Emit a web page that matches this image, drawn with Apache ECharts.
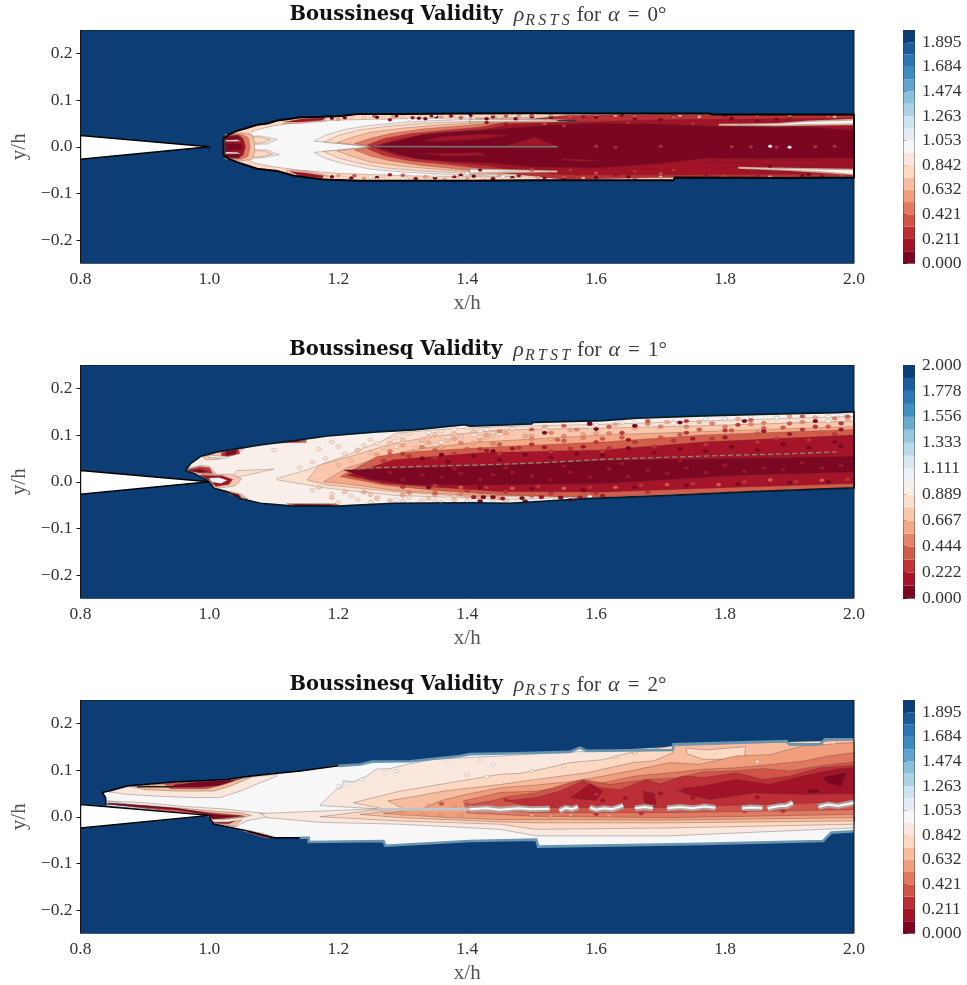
<!DOCTYPE html>
<html><head><meta charset="utf-8">
<style>html,body{margin:0;padding:0;background:#fff}#c{width:967px;height:985px}</style>
<script src="https://cdn.jsdelivr.net/npm/echarts@6/dist/echarts.min.js"></script></head>
<body><div id="c"></div>
<script>
// ---- colour bands ----
const bands19 = ['#7b0622','#a21328','#bd2f36','#d05548','#e17960','#f19e7c','#f8bc9f','#fdd8c3','#fae8de','#f7f7f7','#e3edf3','#cee3ef','#add2e6','#8ac0db','#60a5cd','#3e8cbf','#2c74b3','#1b5b9c','#0c3e75'];
const bands18 = ['#7c0722','#a61429','#c03438','#d45c4b','#e58267','#f5a886','#fac6ac','#fce0cf','#f9efea','#ecf2f5','#d7e8f1','#b8d9e9','#96c7df','#6aacd0','#4190c2','#2e77b5','#1c5d9f','#0d3f76'];
// ---- axes ----
const xTicks = [0.8,1.0,1.2,1.4,1.6,1.8,2.0];
const yTicks = [-0.2,-0.1,0,0.1,0.2];
const levels19 = [0,0.10526,0.21053,0.31579,0.42105,0.52632,0.63158,0.73684,0.84211,0.94737,1.05263,1.15789,1.26316,1.36842,1.47368,1.57895,1.68421,1.78947,1.89474,2];
const levels18 = [0,0.11111,0.22222,0.33333,0.44444,0.55556,0.66667,0.77778,0.88889,1,1.11111,1.22222,1.33333,1.44444,1.55556,1.66667,1.77778,1.88889,2];
const cbTicks19 = [0,0.21053,0.42105,0.63158,0.84211,1.05263,1.26316,1.47368,1.68421,1.89474];
const cbTicks18 = [0,0.22222,0.44444,0.66667,0.88889,1.11111,1.33333,1.55556,1.77778,2];
const titles = [['RSTS','0'],['RTST','1'],['RSTS','2']];
// ---- wedges ----
const wedge0 = [[0.8,0.024],[1.0,0],[0.8,-0.0265]];
const wedge1 = [[0.8,0.024],[1.0,0],[0.8,-0.0265]];
const wedge2 = [[0.8,0.026],[1.0,0.003],[0.8,-0.024]];
// ---- alpha 0 ----
const edge0 = [[1.022,0.018],[1.03,0.026],[1.043,0.034],[1.058,0.04],[1.074,0.047],[1.09,0.05],[1.105,0.056],[1.12,0.059],[1.141,0.063],[1.16,0.063],[1.182,0.065],[1.205,0.066],[1.229,0.07],[1.3,0.07],[1.4,0.071],[1.5,0.072],[1.6,0.071],[1.7,0.071],[1.777,0.071],[1.78,0.069],[1.9,0.069],[2,0.069],[2,-0.066],[1.9,-0.067],[1.722,-0.066],[1.72,-0.072],[1.6,-0.072],[1.5,-0.072],[1.4,-0.073],[1.234,-0.073],[1.177,-0.07],[1.131,-0.062],[1.105,-0.052],[1.074,-0.047],[1.043,-0.033],[1.03,-0.026],[1.022,-0.018]];
const fill0 = [
 [7,edge0],
 [9,[[1.05,0.02],[1.07,0.035],[1.1,0.045],[1.14,0.052],[1.2,0.057],[1.3,0.06],[1.4,0.062],[1.5,0.062],[1.5,-0.062],[1.4,-0.064],[1.3,-0.062],[1.2,-0.057],[1.14,-0.05],[1.1,-0.043],[1.07,-0.035],[1.05,-0.02]]],
 [6,[[1.115,0.058],[1.14,0.061],[1.18,0.063],[1.18,0.055],[1.14,0.05],[1.115,0.05]]],
 [1,[[1.118,0.053],[1.14,0.059],[1.18,0.062],[1.175,0.057],[1.14,0.053]]],
 [6,[[1.12,-0.05],[1.15,-0.052],[1.185,-0.062],[1.18,-0.069],[1.14,-0.064],[1.12,-0.058]]],
 [1,[[1.125,-0.053],[1.15,-0.056],[1.177,-0.062],[1.175,-0.067],[1.14,-0.062]]],
 [8,[[1.05,0.023],[1.08,0.023],[1.105,0.016],[1.09,0.006],[1.06,0.005],[1.05,0.012]]],
 [7,[[1.05,0.021],[1.078,0.021],[1.095,0.015],[1.082,0.008],[1.06,0.007]]],
 [8,[[1.05,-0.005],[1.09,-0.007],[1.108,-0.017],[1.08,-0.024],[1.05,-0.024]]],
 [7,[[1.05,-0.008],[1.085,-0.009],[1.098,-0.016],[1.078,-0.022],[1.05,-0.022]]],
 [6,[[1.024,0.027],[1.05,0.03],[1.066,0.026],[1.07,0.01],[1.07,-0.012],[1.066,-0.027],[1.05,-0.03],[1.024,-0.027]]],
 [4,[[1.024,0.025],[1.05,0.027],[1.06,0.02],[1.063,0],[1.06,-0.02],[1.05,-0.027],[1.024,-0.025]]],
 [1,[[1.024,0.023],[1.045,0.025],[1.052,0.018],[1.056,0],[1.052,-0.018],[1.045,-0.025],[1.024,-0.023]]],
 [0,[[1.026,0.007],[1.05,0.006],[1.05,-0.006],[1.026,-0.008]]],
 [0,[[1.027,0.022],[1.045,0.022],[1.047,0.017],[1.027,0.017]]],
 [0,[[1.027,-0.017],[1.045,-0.017],[1.047,-0.022],[1.027,-0.022]]],
 [9,[[1.025,0.014],[1.043,0.015],[1.049,0.012],[1.025,0.011]]],
 [9,[[1.025,-0.011],[1.043,-0.012],[1.049,-0.015],[1.025,-0.015]]],
 [8,[[1.162,0.012],[1.18,0.025],[1.21,0.037],[1.25,0.046],[1.3,0.052],[1.35,0.056],[1.42,0.06],[1.5,0.063],[1.6,0.066],[2,0.066],[2,-0.063],[1.6,-0.066],[1.5,-0.065],[1.42,-0.062],[1.35,-0.058],[1.3,-0.054],[1.25,-0.048],[1.21,-0.037],[1.18,-0.025],[1.162,-0.012],[1.255,0]]],
 [7,[[1.177,0.01],[1.2,0.024],[1.23,0.035],[1.27,0.043],[1.33,0.05],[1.42,0.055],[1.5,0.06],[1.6,0.062],[2,0.064],[2,-0.061],[1.6,-0.063],[1.5,-0.062],[1.42,-0.058],[1.33,-0.052],[1.27,-0.045],[1.23,-0.035],[1.2,-0.024],[1.177,-0.01],[1.255,0]]],
 [6,[[1.198,0.009],[1.22,0.02],[1.25,0.031],[1.3,0.04],[1.36,0.047],[1.42,0.052],[1.5,0.057],[1.6,0.061],[2,0.063],[2,-0.06],[1.6,-0.062],[1.5,-0.06],[1.42,-0.055],[1.36,-0.049],[1.3,-0.042],[1.25,-0.033],[1.22,-0.02],[1.198,-0.009],[1.255,0]]],
 [4,[[1.225,0.007],[1.25,0.018],[1.28,0.028],[1.33,0.038],[1.4,0.046],[1.45,0.052],[1.6,0.06],[2,0.066],[2,-0.062],[1.6,-0.064],[1.45,-0.056],[1.4,-0.05],[1.33,-0.04],[1.28,-0.03],[1.25,-0.02],[1.225,-0.007],[1.255,0]]],
 [2,[[1.245,0.004],[1.27,0.017],[1.31,0.028],[1.37,0.036],[1.42,0.042],[1.46,0.053],[1.55,0.067],[1.7,0.069],[2,0.068],[2,-0.064],[1.7,-0.066],[1.55,-0.07],[1.46,-0.056],[1.42,-0.046],[1.37,-0.038],[1.31,-0.03],[1.27,-0.019],[1.245,-0.004],[1.255,0]]],
 [1,[[1.255,0.001],[1.29,0.015],[1.33,0.025],[1.38,0.032],[1.43,0.038],[1.47,0.048],[1.55,0.052],[1.7,0.058],[2,0.061],[2,-0.058],[1.7,-0.06],[1.55,-0.06],[1.47,-0.05],[1.43,-0.04],[1.38,-0.034],[1.33,-0.027],[1.29,-0.018],[1.255,-0.001]]],
 [0,[[1.26,0.001],[1.29,0.012],[1.33,0.026],[1.36,0.03],[1.42,0.035],[1.47,0.04],[1.53,0.046],[1.6,0.05],[1.7,0.048],[1.8,0.043],[2,0.04],[2,-0.024],[1.85,-0.025],[1.77,-0.024],[1.7,-0.036],[1.6,-0.045],[1.5,-0.043],[1.43,-0.034],[1.36,-0.03],[1.32,-0.025],[1.29,-0.015],[1.26,-0.001]]],
 [1,[[1.33,0.012],[1.36,0.022],[1.42,0.027],[1.47,0.025],[1.42,0.016],[1.37,0.012]]],
 [1,[[1.32,-0.013],[1.37,-0.014],[1.42,-0.012],[1.43,-0.019],[1.37,-0.021]]],
 [1,[[1.456,0.001],[1.49,0.014],[1.505,0.021],[1.52,0.012],[1.54,0.001]]],
 [1,[[1.544,-0.025],[1.58,-0.027],[1.61,-0.03],[1.58,-0.032],[1.55,-0.029]]],
 [1,[[1.766,-0.034],[1.8,-0.025],[1.9,-0.029],[2,-0.033],[2,-0.042],[1.85,-0.037]]],
 [1,[[1.88,0.047],[2,0.035],[2,0.045],[1.9,0.05]]],
 [6,[[1.404,0.061],[1.46,0.06],[1.54,0.059],[1.57,0.056],[1.54,0.053],[1.46,0.052],[1.404,0.051]]],
 [9,[[1.404,0.058],[1.46,0.0575],[1.53,0.058],[1.545,0.056],[1.46,0.0545],[1.404,0.054]]],
 [6,[[1.79,0.049],[1.88,0.051],[1.93,0.056],[2,0.06],[2,0.046],[1.93,0.045],[1.88,0.044],[1.79,0.045]]],
 [9,[[1.82,0.0475],[1.88,0.049],[1.93,0.054],[2,0.057],[2,0.049],[1.93,0.048],[1.88,0.046],[1.82,0.046]]],
 [6,[[1.404,-0.046],[1.46,-0.048],[1.54,-0.051],[1.54,-0.055],[1.46,-0.056],[1.404,-0.06]]],
 [9,[[1.404,-0.049],[1.46,-0.05],[1.53,-0.052],[1.53,-0.054],[1.46,-0.0535],[1.404,-0.056]]],
 [6,[[1.82,-0.043],[1.9,-0.045],[2,-0.047],[2,-0.061],[1.95,-0.056],[1.9,-0.052],[1.82,-0.047]]],
 [9,[[1.84,-0.045],[1.9,-0.047],[2,-0.05],[2,-0.059],[1.95,-0.053],[1.9,-0.05],[1.84,-0.047]]]
];
const noise0 = [
 [0,[[1.19,0.061],[1.21,0.062],[1.26,0.063],[1.325,0.061],[1.335,0.06],[1.405,0.067],[1.43,0.06],[1.352,0.064],[1.29,0.066],[1.475,0.06],[1.5,0.064],[1.53,0.063],[1.19,-0.064],[1.26,-0.066],[1.22,-0.067],[1.35,-0.067],[1.41,-0.063],[1.47,-0.066],[1.32,-0.07],[1.39,-0.061],[1.44,-0.069],[1.55,-0.068],[1.6,-0.066],[1.65,-0.064],[1.92,-0.062],[1.95,-0.064],[1.81,0.061],[1.85,0.055],[1.88,0.059],[1.6,0.063],[1.66,0.06],[1.7,0.058],[1.87,-0.042],[1.93,-0.06]]],
 [1,[[1.315,0.062],[1.345,0.066],[1.375,0.066],[1.28,0.058],[1.44,0.064],[1.32,-0.068],[1.38,-0.065],[1.44,-0.068],[1.48,-0.062],[1.28,-0.06],[1.52,-0.067],[1.57,-0.059],[1.63,-0.061],[1.7,-0.063],[1.77,-0.06],[1.85,-0.063],[1.58,0.064],[1.64,0.067],[1.72,0.066],[1.8,0.066],[1.9,0.063],[1.46,0.048],[1.43,0.052],[1.42,-0.05]]],
 [3,[[1.255,0.066],[1.39,0.062],[1.46,0.066],[1.225,-0.062],[1.3,-0.061],[1.55,-0.065],[1.66,-0.068],[1.5,0.067],[1.56,0.065],[1.66,0.066],[1.72,0.063],[1.85,0.066],[1.7,-0.058],[1.8,-0.063],[1.98,-0.063],[1.96,0.065],[1.52,0.05],[1.6,-0.056],[1.5,-0.05]]],
 [5,[[1.2,0.059],[1.285,0.065],[1.36,0.063],[1.44,0.069],[1.48,0.067],[1.53,0.068],[1.6,0.069],[1.63,0.067],[1.73,0.067],[1.97,0.064],[1.2,-0.062],[1.24,-0.068],[1.335,-0.064],[1.365,-0.07],[1.51,-0.066],[1.58,-0.067],[1.7,-0.065],[1.87,-0.064],[1.45,-0.06],[1.4,-0.068],[1.76,0.064],[1.9,0.067]]],
 [7,[[1.22,0.064],[1.24,0.063],[1.27,0.062],[1.3,0.065],[1.33,0.066],[1.37,0.06],[1.41,0.061],[1.45,0.063],[1.21,-0.066],[1.27,-0.063],[1.31,-0.065],[1.34,-0.069],[1.425,-0.066],[1.47,-0.07],[1.38,-0.07],[1.26,-0.07],[1.39,-0.066]]],
 [9,[[1.25,0.067],[1.35,0.067],[1.4,0.065],[1.31,0.059],[1.25,-0.065],[1.35,-0.062],[1.455,-0.064],[1.3,-0.068],[1.4,-0.057],[1.87,0.001],[1.9,-0.001]]],
 [2,[[1.6,0.001],[1.63,-0.001],[1.81,0],[1.94,0],[1.84,0],[1.7,0.001],[1.88,-0.001],[1.97,0.001],[1.55,0.045],[1.65,0.052],[1.75,0.05],[1.56,-0.05],[1.66,-0.052],[1.72,-0.05]]]
];
const lines0 = [[1.255,0.0005],[1.4,0],[1.54,0]];
const lines0b = [[1.57,0.056],[1.54,0.056]];
// ---- alpha 1 ----
const edge1 = [[0.963,0.024],[0.971,0.039],[0.986,0.054],[1.012,0.064],[1.048,0.072],[1.079,0.079],[1.131,0.088],[1.183,0.098],[1.26,0.107],[1.317,0.111],[1.397,0.122],[1.404,0.119],[1.5,0.124],[1.502,0.127],[1.611,0.131],[1.663,0.136],[1.766,0.141],[1.869,0.145],[1.973,0.148],[2,0.15],[2,-0.013],[1.843,-0.021],[1.714,-0.029],[1.585,-0.036],[1.466,-0.046],[1.404,-0.045],[1.286,-0.046],[1.198,-0.052],[1.131,-0.052],[1.079,-0.046],[1.048,-0.036],[1.027,-0.021],[1.007,-0.014],[1.002,-0.004],[0.996,0.004],[0.975,0.018]];
const fill1 = [
 [8,edge1],
 [6,[[0.99,0.052],[1.01,0.063],[1.045,0.072],[1.055,0.072],[1.04,0.058],[1.015,0.048],[0.995,0.047]]],
 [2,[[1.018,0.062],[1.045,0.07],[1.047,0.06],[1.02,0.052]]],
 [0,[[1.025,0.065],[1.043,0.068],[1.04,0.06],[1.025,0.056]]],
 [9,[[0.999,0.057],[1.03,0.054],[1.027,0.05],[0.999,0.052]]],
 [6,[[0.965,0.028],[0.985,0.035],[1.0,0.033],[1.01,0.018],[1.0,0.012],[0.97,0.02]]],
 [2,[[0.966,0.026],[0.985,0.032],[1.0,0.03],[1.005,0.018],[0.99,0.018],[0.97,0.022]]],
 [0,[[0.97,0.024],[0.985,0.027],[0.997,0.022],[0.985,0.02]]],
 [7,[[1.033,0.007],[1.043,0.024],[1.1,0.027],[1.058,0.014]]],
 [6,[[0.99,0.016],[1.035,0.016],[1.05,0.006],[1.04,-0.009],[1.012,-0.014],[1,-0.004]]],
 [1,[[0.985,0.014],[1.02,0.013],[1.036,0.005],[1.03,-0.006],[1.01,-0.01],[1,0.004]]],
 [9,[[0.999,0.008],[1.015,0.009],[1.028,0.003],[1.018,-0.004],[1.004,-0.001]]],
 [5,[[1.03,-0.02],[1.048,-0.026],[1.06,-0.037],[1.05,-0.037],[1.03,-0.027]]],
 [0,[[1.03,-0.023],[1.045,-0.027],[1.05,-0.034],[1.036,-0.028]]],
 [3,[[1.12,-0.047],[1.2,-0.047],[1.198,-0.052],[1.131,-0.052]]],
 [0,[[1.13,-0.048],[1.19,-0.049],[1.185,-0.052],[1.135,-0.052]]],
 [3,[[1.105,0.083],[1.15,0.084],[1.15,0.09],[1.125,0.087]]],
 [0,[[1.12,0.085],[1.14,0.086],[1.14,0.089],[1.125,0.087]]],
 [7,[[1.105,0.007],[1.15,0.025],[1.21,0.055],[1.27,0.089],[1.29,0.104],[1.347,0.111],[1.45,0.118],[1.611,0.123],[1.766,0.13],[2,0.14],[2,-0.012],[1.843,-0.018],[1.714,-0.025],[1.585,-0.032],[1.456,-0.039],[1.42,-0.036],[1.286,-0.029],[1.183,-0.014],[1.105,0.004]]],
 [6,[[1.152,0.004],[1.17,0.036],[1.218,0.054],[1.285,0.082],[1.347,0.097],[1.451,0.111],[1.611,0.115],[1.766,0.12],[2,0.13],[2,-0.012],[1.843,-0.016],[1.585,-0.029],[1.404,-0.032],[1.286,-0.021],[1.183,-0.007]]],
 [5,[[1.177,0],[1.214,0.03],[1.26,0.05],[1.32,0.07],[1.42,0.085],[1.611,0.1],[1.817,0.11],[2,0.118],[2,-0.012],[1.843,-0.016],[1.585,-0.031],[1.404,-0.029],[1.286,-0.018],[1.208,-0.004]]],
 [3,[[1.203,0.011],[1.26,0.054],[1.316,0.064],[1.451,0.075],[1.611,0.085],[1.766,0.1],[2,0.112],[2,-0.012],[1.714,-0.027],[1.585,-0.034],[1.451,-0.028],[1.347,-0.018],[1.27,-0.007]]],
 [1,[[1.214,0.014],[1.286,0.047],[1.42,0.062],[1.611,0.068],[1.766,0.085],[2,0.1],[2,-0.004],[1.817,-0.012],[1.611,-0.022],[1.451,-0.021],[1.347,-0.011],[1.27,-0.004]]],
 [0,[[1.208,0.025],[1.312,0.029],[1.42,0.033],[1.611,0.045],[1.817,0.05],[2,0.054],[2,0.021],[1.817,0.014],[1.611,-0.004],[1.404,-0.007],[1.312,-0.006],[1.25,0.006]]]
];
const noise1 = [
 [8,[[1.33,0.09],[1.37,0.095],[1.41,0.1],[1.36,0.084],[1.45,0.103],[1.5,0.108],[1.55,0.118],[1.6,0.122],[1.43,0.112],[1.66,0.127],[1.72,0.128],[1.8,0.134],[1.88,0.138],[1.96,0.14],[1.52,0.113],[1.47,0.113],[1.3,0.098],[1.34,0.105],[1.38,0.112],[1.42,0.108],[1.29,-0.038],[1.33,-0.042],[1.37,-0.035],[1.42,-0.04]]],
 [9,[[1.64,0.127],[1.72,0.125],[1.8,0.135],[1.88,0.136],[1.96,0.13],[1.59,0.118],[1.77,0.135],[1.84,0.139],[1.92,0.133],[1.98,0.143],[1.41,-0.039],[1.44,-0.04],[1.47,-0.041],[1.53,-0.038],[1.59,-0.032],[1.46,-0.035],[1.5,-0.04],[1.56,-0.036]]],
 [7,[[1.1,0.068],[1.17,0.07],[1.19,0.085],[1.25,0.09],[1.29,0.094],[1.3,0.085],[1.33,0.081],[1.35,0.08],[1.39,0.093],[1.29,0.075],[1.24,0.078],[1.2,0.075],[1.47,0.114],[1.42,0.095],[1.2,-0.045],[1.23,-0.038],[1.25,-0.043],[1.3,-0.041],[1.35,-0.04],[1.4,-0.042],[1.21,0.06],[1.23,0.067],[1.26,0.082],[1.28,0.09],[1.31,0.103],[1.36,0.108],[1.4,0.115],[1.44,0.104],[1.16,0.042],[1.18,0.05],[1.14,0.03],[1.16,-0.018],[1.19,-0.026],[1.22,-0.03],[1.26,-0.037],[1.31,-0.034],[1.33,-0.04],[1.36,-0.043]]],
 [6,[[1.33,0.09],[1.37,0.089],[1.41,0.108],[1.32,0.072],[1.44,0.098],[1.28,0.082],[1.34,0.096],[1.23,0.068],[1.38,0.103],[1.28,-0.04],[1.34,-0.036],[1.38,-0.039],[1.42,-0.038],[1.19,-0.034],[1.26,-0.034],[1.46,-0.04],[1.22,0.045],[1.25,0.062],[1.27,0.073],[1.3,0.09],[1.35,0.102],[1.39,0.097],[1.43,0.094],[1.2,0.035],[1.17,-0.012],[1.21,-0.022],[1.25,-0.028],[1.3,-0.03],[1.38,-0.031],[1.44,-0.036]]],
 [5,[[1.36,0.075],[1.43,0.1],[1.52,0.118],[1.42,0.09],[1.49,0.098],[1.58,0.102],[1.6,0.104],[1.46,0.104],[1.56,0.111],[1.66,0.115],[1.71,0.128],[1.63,0.123],[1.76,0.128],[1.82,0.135],[1.9,0.14],[1.94,0.138],[1.99,0.135],[1.5,0.098],[1.53,0.092],[1.3,-0.027],[1.35,-0.028],[1.4,-0.031],[1.45,-0.034],[1.34,0.084],[1.38,0.092],[1.3,0.078],[1.26,0.058],[1.41,0.083],[1.24,-0.022],[1.37,-0.024],[1.42,-0.034]]],
 [4,[[1.45,0.108],[1.53,0.105],[1.57,0.112],[1.7,0.118],[1.78,0.125],[1.5,0.092],[1.58,0.094],[1.62,0.104],[1.74,0.118],[1.86,0.126],[1.92,0.128],[1.97,0.136],[1.68,0.124],[1.33,0.075],[1.39,0.083],[1.44,0.082],[1.55,0.098],[1.8,0.118],[1.84,0.123],[1.28,0.066],[1.31,-0.023],[1.39,-0.027],[1.44,-0.028]]],
 [3,[[1.5,0.112],[1.55,0.12],[1.62,0.118],[1.68,0.13],[1.76,0.112],[1.84,0.132],[1.86,0.115],[1.9,0.125],[1.92,0.14],[1.99,0.14],[1.4,0.07],[1.45,0.08],[1.55,0.088],[1.7,0.095],[1.85,0.104],[1.95,0.106],[1.64,0.095],[1.73,0.101],[1.81,0.11],[1.89,0.116],[1.96,0.118],[1.28,0.058],[1.35,0.068],[1.54,0.09],[1.61,0.092],[1.39,-0.012],[1.47,-0.014],[1.55,-0.014],[1.63,-0.012],[1.71,-0.006],[1.79,-0.006],[1.87,0.004],[1.95,0.003],[1.35,-0.024],[1.42,-0.022],[1.5,-0.03],[1.58,-0.029]]],
 [2,[[1.59,0.123],[1.66,0.12],[1.74,0.13],[1.82,0.122],[1.94,0.118],[1.98,0.125],[1.64,0.105],[1.74,0.105],[1.8,0.11],[1.92,0.112],[1.3,0.06],[1.5,0.08],[1.6,0.085],[1.45,0.06],[1.53,0.065],[1.61,0.065],[1.69,0.075],[1.77,0.08],[1.85,0.085],[1.93,0.09],[1.35,-0.008],[1.43,-0.012],[1.51,-0.01],[1.59,-0.012],[1.67,-0.007],[1.75,-0.004],[1.83,0],[1.91,0],[1.99,0.005],[1.38,0.06],[1.42,0.07],[1.48,0.073],[1.56,0.071],[1.62,0.072],[1.66,0.085],[1.72,0.088],[1.78,0.092],[1.88,0.092],[1.97,0.102],[1.46,-0.021],[1.53,-0.025],[1.6,-0.024],[1.68,-0.022],[1.31,0.055],[1.27,0.045],[1.35,0.052],[1.4,-0.018],[1.3,-0.011]]],
 [1,[[1.43,0.067],[1.47,0.071],[1.52,0.074],[1.58,0.075],[1.65,0.09],[1.75,0.092],[1.8,0.095],[1.9,0.102],[1.86,0.108],[1.98,0.112],[1.44,0.015],[1.5,0.012],[1.56,0.02],[1.62,0.028],[1.68,0.025],[1.74,0.03],[1.8,0.035],[1.86,0.03],[1.92,0.04],[1.98,0.035],[1.47,0.02],[1.53,0.004],[1.59,0.01],[1.65,0.012],[1.71,0.018],[1.77,0.02],[1.83,0.022],[1.89,0.026],[1.95,0.03],[1.36,0.01],[1.33,0.015],[1.39,0.018],[1.55,0.033],[1.64,0.039],[1.73,0.045],[1.41,-0.033],[1.455,-0.036],[1.515,-0.033],[1.575,-0.034],[1.61,-0.03],[1.28,0.02],[1.3,0.005],[1.42,0.005],[1.38,0.028],[1.46,0.03]]],
 [0,[[1.33,0.05],[1.41,0.055],[1.49,0.058],[1.57,0.06],[1.65,0.072],[1.73,0.07],[1.81,0.075],[1.89,0.08],[1.97,0.085],[1.37,0.043],[1.45,0.047],[1.53,0.052],[1.61,0.057],[1.69,0.062],[1.77,0.066],[1.85,0.068],[1.93,0.073],[1.98,0.076],[1.34,-0.012],[1.42,-0.012],[1.5,-0.015],[1.58,-0.018],[1.66,-0.012],[1.74,-0.008],[1.82,-0.005],[1.9,-0.002],[1.96,0],[1.425,-0.033],[1.485,-0.035],[1.545,-0.034],[1.66,0.12],[1.59,0.125],[1.73,0.127],[1.83,0.13],[1.94,0.13],[1.6,0.113],[1.52,0.105],[1.42,-0.042],[1.49,-0.042],[1.56,-0.039],[1.44,-0.033],[1.36,0.058],[1.44,0.066]]]
];
const lines1 = [[1.234,0.029],[1.33,0.033],[1.42,0.036],[1.52,0.041],[1.611,0.048],[1.7,0.052],[1.817,0.057],[1.9,0.06],[1.973,0.064]];
// ---- alpha 2 ----
const edge2 = [[0.834,0.052],[0.844,0.055],[0.872,0.066],[0.898,0.069],[0.95,0.075],[1.027,0.08],[1.058,0.086],[1.105,0.093],[1.141,0.098],[1.193,0.109],[1.234,0.112],[1.252,0.118],[1.312,0.119],[1.389,0.13],[1.404,0.134],[1.476,0.136],[1.559,0.139],[1.575,0.148],[1.585,0.141],[1.719,0.143],[1.72,0.155],[1.895,0.162],[1.9,0.155],[1.947,0.155],[1.955,0.166],[2,0.166],[2,-0.031],[1.965,-0.034],[1.952,-0.052],[1.766,-0.058],[1.51,-0.064],[1.507,-0.049],[1.404,-0.052],[1.273,-0.062],[1.27,-0.052],[1.154,-0.054],[1.154,-0.045],[1.1,-0.045],[1.048,-0.027],[1.007,-0.016],[1.002,-0.006],[1,0.003],[0.839,0.024],[0.839,0.041]];
const fill2 = [
 [9,edge2],
 [8,[[0.845,0.053],[0.872,0.064],[0.95,0.073],[1.027,0.078],[1.058,0.084],[1.105,0.091],[1.105,0.087],[1.079,0.073],[1.048,0.055],[1.017,0.041],[0.976,0.041],[0.92,0.044],[0.872,0.048]]],
 [6,[[0.88,0.064],[0.95,0.072],[1.027,0.077],[1.06,0.084],[1.064,0.084],[1.033,0.066],[1.007,0.055],[0.95,0.055],[0.9,0.058]]],
 [3,[[0.93,0.07],[0.95,0.073],[1.027,0.077],[1.05,0.082],[1.022,0.069],[0.996,0.06],[0.94,0.06]]],
 [0,[[0.945,0.068],[0.985,0.075],[1.03,0.078],[1.04,0.078],[1.015,0.067],[0.985,0.063],[0.945,0.063]]],
 [8,[[0.84,0.034],[0.9,0.03],[0.96,0.022],[1.02,0.017],[1.06,0.011],[1.1,0.005],[1.095,0.001],[1.06,-0.008],[1.04,-0.022],[1.01,-0.015],[1,0]]],
 [6,[[0.84,0.03],[0.9,0.024],[0.96,0.018],[1,0.013],[1.05,0.008],[1.065,0.003],[1.05,-0.002],[1.02,-0.006],[1,-0.004],[1,0.003]]],
 [3,[[0.84,0.028],[0.95,0.017],[1,0.009],[1.04,0.004],[1.055,0.001],[1.03,-0.003],[1.005,-0.005],[1,0.001]]],
 [0,[[0.84,0.027],[0.9,0.02],[0.95,0.015],[1,0.003],[1.005,-0.005],[1.02,-0.003],[1.05,0.002],[1.02,0.004],[1,0.007],[0.95,0.018],[0.9,0.024],[0.845,0.029]]],
 [6,[[1.002,-0.012],[1.03,-0.011],[1.05,-0.007],[1.04,-0.02],[1.01,-0.015]]],
 [1,[[1.005,-0.012],[1.03,-0.012],[1.04,-0.009],[1.03,-0.015],[1.01,-0.014]]],
 [6,[[1.05,-0.026],[1.08,-0.035],[1.105,-0.045],[1.085,-0.045],[1.05,-0.03]]],
 [0,[[1.06,-0.03],[1.08,-0.037],[1.1,-0.045],[1.085,-0.044],[1.06,-0.033]]],
 [8,[[1.171,0.024],[1.197,0.059],[1.205,0.062],[1.208,0.077],[1.225,0.075],[1.244,0.087],[1.259,0.102],[1.28,0.103],[1.306,0.112],[1.347,0.123],[1.451,0.13],[1.5,0.134],[1.72,0.15],[1.9,0.16],[2,0.164],[2,-0.024],[1.714,-0.041],[1.507,-0.041],[1.451,-0.027],[1.296,-0.016],[1.172,-0.012],[1.09,-0.002],[1.079,0.007],[1.26,0.017]]],
 [7,[[1.223,0.03],[1.296,0.055],[1.374,0.073],[1.451,0.091],[1.482,0.093],[1.52,0.103],[1.559,0.116],[1.61,0.122],[1.652,0.137],[1.72,0.152],[1.9,0.16],[2,0.164],[2,-0.016],[1.714,-0.024],[1.507,-0.027],[1.451,-0.016],[1.296,-0.009],[1.172,0],[1.27,0.017]]],
 [6,[[1.277,0.034],[1.321,0.044],[1.363,0.055],[1.451,0.069],[1.507,0.08],[1.585,0.094],[1.657,0.116],[1.69,0.12],[1.719,0.137],[1.72,0.152],[1.895,0.16],[1.9,0.153],[1.947,0.153],[1.955,0.164],[2,0.164],[2,-0.009],[1.714,-0.013],[1.507,-0.013],[1.451,-0.011],[1.296,-0.002],[1.234,0.005],[1.3,0.017]]],
 [7,[[1.766,0.123],[1.8,0.123],[1.83,0.13],[1.832,0.15],[1.77,0.143],[1.74,0.147],[1.74,0.135]]],
 [7,[[1.95,0.16],[1.97,0.163],[1.98,0.15],[1.96,0.145]]],
 [5,[[1.358,0.034],[1.399,0.048],[1.451,0.062],[1.507,0.068],[1.56,0.075],[1.611,0.087],[1.66,0.1],[1.714,0.116],[1.76,0.112],[1.817,0.13],[1.87,0.133],[1.921,0.152],[2,0.159],[2,-0.002],[1.714,-0.007],[1.507,-0.006],[1.451,-0.006],[1.373,-0.002],[1.27,0.007],[1.33,0.017]]],
 [4,[[1.394,0.034],[1.451,0.052],[1.507,0.055],[1.56,0.066],[1.611,0.073],[1.66,0.087],[1.714,0.094],[1.77,0.102],[1.817,0.105],[1.87,0.112],[1.921,0.119],[1.96,0.13],[2,0.137],[2,0.005],[1.714,-0.002],[1.507,0.001],[1.4,0.008]]],
 [3,[[1.404,0.026],[1.435,0.033],[1.466,0.044],[1.507,0.051],[1.559,0.073],[1.58,0.08],[1.621,0.069],[1.678,0.08],[1.725,0.083],[1.766,0.096],[1.812,0.098],[1.859,0.103],[1.9,0.098],[1.952,0.11],[2,0.117],[2,0.015],[1.714,0.009],[1.507,0.009],[1.43,0.014]]],
 [2,[[1.461,0.034],[1.507,0.041],[1.544,0.055],[1.58,0.077],[1.606,0.062],[1.637,0.058],[1.678,0.08],[1.699,0.07],[1.735,0.087],[1.766,0.084],[1.818,0.094],[1.859,0.08],[1.9,0.087],[1.947,0.105],[2,0.11],[2,0.03],[1.95,0.03],[1.7,0.02],[1.5,0.02]]],
 [1,[[1.725,0.059],[1.766,0.066],[1.818,0.08],[1.869,0.069],[1.921,0.087],[1.973,0.102],[2,0.105],[2,0.05],[1.921,0.048],[1.844,0.051],[1.776,0.037],[1.74,0.048]]],
 [1,[[1.673,0.055],[1.69,0.05],[1.693,0.026],[1.675,0.03]]],
 [1,[[1.56,0.04],[1.59,0.07],[1.61,0.055],[1.6,0.035]]],
 [0,[[1.952,0.084],[1.988,0.094],[1.98,0.066],[1.96,0.072]]],
 [0,[[1.93,0.058],[1.945,0.058],[1.945,0.052],[1.93,0.052]]]
];
const streakGrey2 = [[1.26,0.015],[1.32,0.016],[1.404,0.016]];
const streakHalo2 = [[[1.404,0.016],[1.43,0.018],[1.45,0.015],[1.48,0.018],[1.5,0.016],[1.528,0.017]],[[1.543,0.013],[1.553,0.019],[1.562,0.016],[1.572,0.021]],[[1.59,0.02],[1.6,0.015],[1.612,0.018],[1.625,0.016],[1.642,0.024]],[[1.66,0.018],[1.675,0.021],[1.688,0.018]],[[1.71,0.018],[1.73,0.021],[1.75,0.018],[1.768,0.022],[1.785,0.019]],[[1.826,0.018],[1.84,0.02],[1.858,0.019]],[[1.866,0.018],[1.885,0.023],[1.895,0.023],[1.905,0.03]],[[1.945,0.021],[1.96,0.026],[1.975,0.023],[2,0.03]]];
const noise2 = [
 [9,[[1.2,0.066],[1.215,0.07],[1.237,0.08],[1.272,0.094],[1.29,0.098],[1.37,0.121],[1.42,0.12],[1.44,0.112]]],
 [8,[[1.4,0.09],[1.43,0.085],[1.5,0.098],[1.55,0.108]]],
 [7,[[1.63,0.128],[1.66,0.136],[1.85,0.118]]],
 [5,[[1.3,0.005],[1.33,0.005],[1.36,0.004],[1.39,0.004],[1.42,0.004],[1.5,0.004],[1.53,0.002],[1.56,0.004],[1.62,0.003],[1.34,0.024],[1.38,0.023]]],
 [3,[[1.4,0.027],[1.43,0.03],[1.36,0.028]]],
 [2,[[1.5,0.012],[1.6,0.006],[1.67,0.007],[1.83,0.012],[1.89,0.012],[1.54,0.033],[1.56,0.048],[1.46,0.036],[1.49,0.035],[1.53,0.028],[1.6,0.048],[1.73,0.06]]],
 [1,[[1.85,0.042],[1.61,0.035],[1.645,0.04],[1.7,0.05],[1.75,0.04],[1.58,0.053]]]
];
const haloLine2 = [[1.2,0.109],[1.234,0.112],[1.252,0.118],[1.312,0.119],[1.389,0.13],[1.404,0.134],[1.476,0.136],[1.559,0.139],[1.575,0.148],[1.585,0.141],[1.719,0.143],[1.72,0.155],[1.895,0.162],[1.9,0.155],[1.947,0.155],[1.955,0.166],[2,0.166]];
const haloLine2b = [[1.14,-0.045],[1.154,-0.045],[1.154,-0.054],[1.27,-0.052],[1.273,-0.062],[1.404,-0.052],[1.507,-0.049],[1.51,-0.064],[1.766,-0.058],[1.952,-0.052],[1.965,-0.034],[2,-0.031]];
const darkLine2 = [[1.2,0.109],[1.141,0.098],[1.105,0.093],[1.058,0.086],[1.027,0.08],[0.95,0.075],[0.898,0.069],[0.872,0.066],[0.844,0.055],[0.834,0.052],[0.839,0.041],[0.839,0.024]];
const darkLine2b = [[1,0.003],[1.002,-0.006],[1.007,-0.016],[1.048,-0.027],[1.1,-0.045],[1.14,-0.045]];
const darkLine2c = [[0.888,0.064],[0.945,0.064]];

// ---- helpers ----
const GRID_TOPS = [30,365,700];
const font = 'Liberation Serif';
const expand = list => list.flatMap(([b,pts])=>pts.map(q=>[q[0],q[1],b]));
function polys(ax, list, palette, stroke, width, z){
  return {type:'custom',xAxisIndex:ax,yAxisIndex:ax,silent:true,animation:false,clip:true,z:z,
    data:list.map((_,i)=>[i]),
    renderItem:(p,api)=>({type:'polygon',
      shape:{points:list[p.dataIndex][1].map(q=>api.coord(q))},
      style:{fill:palette?palette[list[p.dataIndex][0]]:'#fff',stroke:stroke,lineWidth:width}})};
}
function line(ax, pts, color, width, z, closed, dash){
  return {type:'custom',xAxisIndex:ax,yAxisIndex:ax,silent:true,animation:false,clip:true,z:z,
    data:[[0]],
    renderItem:(p,api)=>({type:closed?'polygon':'polyline',
      shape:{points:pts.map(q=>api.coord(q))},
      style:{fill:'none',stroke:color,lineWidth:width,lineDash:dash||null,lineCap:'butt',lineJoin:'miter'}})};
}
function blobs(ax, list, palette, rx, ry, z){
  return {type:'custom',xAxisIndex:ax,yAxisIndex:ax,silent:true,animation:false,clip:true,z:z,
    data:list,
    renderItem:(p,api)=>{
      const c=api.coord([api.value(0),api.value(1)]);
      return {type:'ellipse',shape:{cx:c[0],cy:c[1],rx:rx,ry:ry},
        style:{fill:palette[api.value(2)],stroke:'rgba(60,35,35,.32)',lineWidth:.5}};
    }};
}
function cbar(ax, levels, palette){
  return {type:'custom',xAxisIndex:ax,yAxisIndex:ax,silent:true,animation:false,
    data:palette.map((_,i)=>[i]),
    renderItem:(p,api)=>{
      const i=p.dataIndex, a=api.coord([0,levels[i]]), b=api.coord([1,levels[i+1]]);
      return {type:'rect',shape:{x:a[0],y:b[1],width:b[0]-a[0],height:a[1]-b[1]},style:{fill:palette[i]}};
    }};
}
const frame = [[0.8,-0.25],[2,-0.25],[2,0.25],[0.8,0.25]];
const cbFrame = [[0,0],[1,0],[1,2],[0,2]];
const tickText = {fontFamily:font,fontSize:17.5,color:'#333'};
const plain = {fontWeight:'normal',color:'#3a3a3a',lineHeight:28};

const title = GRID_TOPS.map((t,i)=>({
  left:473.5,top:t-34,textAlign:'center',
  text:'{b|Boussinesq Validity}{r|\u03c1}{s|'+titles[i][0].split('').join('\u2009')+'}{n|for}{r|\u03b1}{n|=}{n|'+titles[i][1]+'\u00b0}',
  textStyle:{fontWeight:'normal',rich:{
    b:{fontFamily:'DejaVu Serif',fontSize:19.5,fontWeight:'bold',color:'#111',lineHeight:28,padding:[0,5,0,0]},
    r:{...plain,fontFamily:font,fontSize:22,fontStyle:'italic',padding:[0,1,0,6]},
    n:{...plain,fontFamily:font,fontSize:21,padding:[0,1,0,7]},
    s:{...plain,fontFamily:font,fontSize:16,fontStyle:'italic',verticalAlign:'bottom',lineHeight:22}
  }}
}));
const grid = [], xAxis = [], yAxis = [];
GRID_TOPS.forEach(t=>{
  grid.push({left:80.5,top:t,width:773.5,height:233.5,show:true,backgroundColor:'#0c3e75',borderWidth:0});
  xAxis.push({type:'value',gridIndex:grid.length-1,min:0.8,max:2,
    name:'x/h',nameLocation:'middle',nameGap:29,nameTextStyle:{fontFamily:font,fontSize:21,color:'#555'},
    axisLine:{show:false},splitLine:{show:false},
    axisTick:{customValues:xTicks,length:4,lineStyle:{color:'#111',width:1}},
    axisLabel:{customValues:xTicks,margin:7,...tickText,formatter:v=>v.toFixed(1)}});
  yAxis.push({type:'value',gridIndex:grid.length-1,min:-0.25,max:0.25,
    name:'y/h',nameLocation:'middle',nameGap:48,nameTextStyle:{fontFamily:font,fontSize:21,color:'#555'},
    axisLine:{show:false},splitLine:{show:false},
    axisTick:{customValues:yTicks,length:4,lineStyle:{color:'#111',width:1}},
    axisLabel:{customValues:yTicks,margin:8,...tickText,formatter:v=>v.toFixed(1).replace('-','\u2212')}});
});
[cbTicks19,cbTicks18,cbTicks19].forEach((tk,i)=>{
  grid.push({left:903,top:GRID_TOPS[i],width:12,height:233.5,show:false});
  xAxis.push({type:'value',gridIndex:grid.length-1,min:0,max:1,show:false});
  yAxis.push({type:'value',gridIndex:grid.length-1,min:0,max:2,position:'right',
    axisLine:{show:false},splitLine:{show:false},
    axisTick:{customValues:tk,length:4,lineStyle:{color:'#111',width:1}},
    axisLabel:{customValues:tk,margin:7,...tickText,formatter:v=>v.toFixed(3)}});
});
const contour='rgba(55,45,45,.42)';
const series = [
  polys(0,fill0,bands19,contour,.6,2), blobs(0,expand(noise0),bands19,2.2,1.5,3),
  line(0,lines0,'#777',1.6,4), line(0,lines0b,'#333',1.2,4),
  line(0,edge0,'#000',2,5,true), polys(0,[[0,wedge0]],null,'#000',1.4,6), line(0,frame,'#111',1,7,true),
  polys(1,fill1,bands18,contour,.6,2), blobs(1,expand(noise1),bands18,2.6,1.8,3),
  line(1,lines1,'#8d8a70',1.3,4,false,[5,3]),
  line(1,edge1,'#0a1a24',1.7,5,true), polys(1,[[0,wedge1]],null,'#000',1.4,6), line(1,frame,'#111',1,7,true),
  polys(2,fill2,bands19,contour,.7,2), blobs(2,expand(noise2),bands19,2.4,1.6,3),
  line(2,streakGrey2,'#c4c4c4',3,4),
  ...streakHalo2.map(s=>line(2,s,'rgba(175,172,168,.9)',6,4)),
  ...streakHalo2.map(s=>line(2,s,'#fafafa',2,4)),
  line(2,haloLine2,'#6a95ae',2.6,5), line(2,haloLine2b,'#6a95ae',2.6,5),
  line(2,darkLine2,'#000',1.5,5), line(2,darkLine2b,'#000',1.5,5), line(2,darkLine2c,'#222',1.5,5),
  polys(2,[[0,wedge2]],null,'#000',1.4,6), line(2,frame,'#111',1,7,true),
  cbar(3,levels19,bands19), line(3,cbFrame,'#333',.8,5,true),
  cbar(4,levels18,bands18), line(4,cbFrame,'#333',.8,5,true),
  cbar(5,levels19,bands19), line(5,cbFrame,'#333',.8,5,true)
];
const chart = echarts.init(document.getElementById('c'),null,{renderer:'canvas'});
chart.setOption({animation:false,backgroundColor:'#fff',title,grid,xAxis,yAxis,series});
</script></body></html>
